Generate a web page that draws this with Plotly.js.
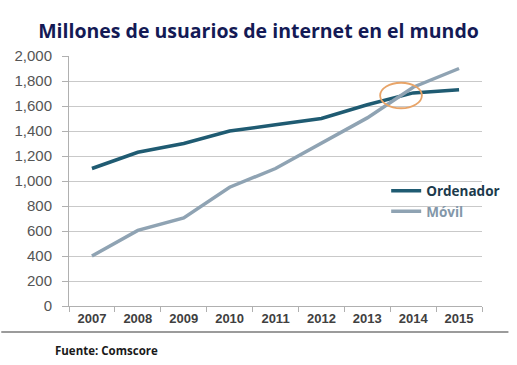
<!DOCTYPE html>
<html>
<head>
<meta charset="utf-8">
<script src="https://cdn.plot.ly/plotly-3.0.1.min.js"></script>
<style>html,body{margin:0;padding:0;background:#fff;}#chart{width:517px;height:365px;}</style>
</head>
<body>
<div id="chart"></div>
<script>
const years = ['2007','2008','2009','2010','2011','2012','2013','2014','2015'];
const ordenador = [1100, 1230, 1300, 1400, 1450, 1500, 1610, 1705, 1730];
const movil = [400, 605, 705, 950, 1100, 1300, 1505, 1750, 1900];
const yTicks = [0, 200, 400, 600, 800, 1000, 1200, 1400, 1600, 1800, 2000];
const yTickText = ['0','200','400','600','800','1,000','1,200','1,400','1,600','1,800','2,000'];

const traces = [
  {x: years, y: ordenador, type: 'scatter', mode: 'lines', name: 'Ordenador',
   line: {color: '#1f5b72', width: 3.5}},
  {x: years, y: movil, type: 'scatter', mode: 'lines', name: '<span style="color:#8397a9">Móvil</span>',
   line: {color: '#8fa3b3', width: 3.5}}
];

const layout = {
  width: 517, height: 365,
  margin: {l: 69, r: 27, t: 56, b: 59},
  paper_bgcolor: '#ffffff', plot_bgcolor: '#ffffff',
  title: {text: '<b>Millones de usuarios de internet en el mundo</b>',
    font: {family: 'Open Sans', size: 19.5, color: '#141a55'},
    x: 0.5, xanchor: 'center', y: 0.915, yanchor: 'middle'},
  showlegend: true,
  legend: {x: 0.768, y: 0.522, xanchor: 'left', yanchor: 'top',
    bgcolor: 'rgba(255,255,255,0)',
    font: {family: 'Open Sans', size: 13.5, color: '#1c3a4c', weight: 'bold'},
    tracegroupgap: 0},
  xaxis: {type: 'category', range: [-0.5, 8.5], showgrid: false, showline: true, linecolor: '#b0b0b0', linewidth: 1,
    ticks: 'outside', tickson: 'boundaries', ticklen: 5, tickcolor: '#b0b0b0',
    tickfont: {family: 'Liberation Sans, Arial', size: 13, color: '#404040', weight: 'bold'},
    fixedrange: true},
  yaxis: {range: [0, 2000], tickvals: yTicks, ticktext: yTickText,
    showgrid: true, gridcolor: '#c9c9c9', gridwidth: 1, zeroline: false,
    showline: true, linecolor: '#b0b0b0', linewidth: 1,
    ticks: 'outside', ticklen: 6, tickcolor: '#b0b0b0', ticklabelstandoff: 7,
    tickfont: {family: 'Liberation Sans, Arial', size: 15, color: '#555555'},
    fixedrange: true},
  shapes: [
    {type: 'circle', xref: 'x', yref: 'y', x0: 6.28, x1: 7.19, y0: 1582, y1: 1786,
     line: {color: '#e8a468', width: 1.8}},
    {type: 'line', xref: 'paper', yref: 'paper', x0: -0.164, x1: 1.064, y0: -0.104, y1: -0.104,
     line: {color: '#7a7a7a', width: 1.5}}
  ],
  annotations: [
    {text: '<b>Fuente: Comscore</b>', xref: 'paper', yref: 'paper', x: -0.038, y: -0.176,
     xanchor: 'left', yanchor: 'middle', showarrow: false,
     font: {family: 'Open Sans', size: 11.5, color: '#1a1a1a'}}
  ]
};

Plotly.newPlot('chart', traces, layout, {displayModeBar: false, staticPlot: true});
</script>
</body>
</html>
